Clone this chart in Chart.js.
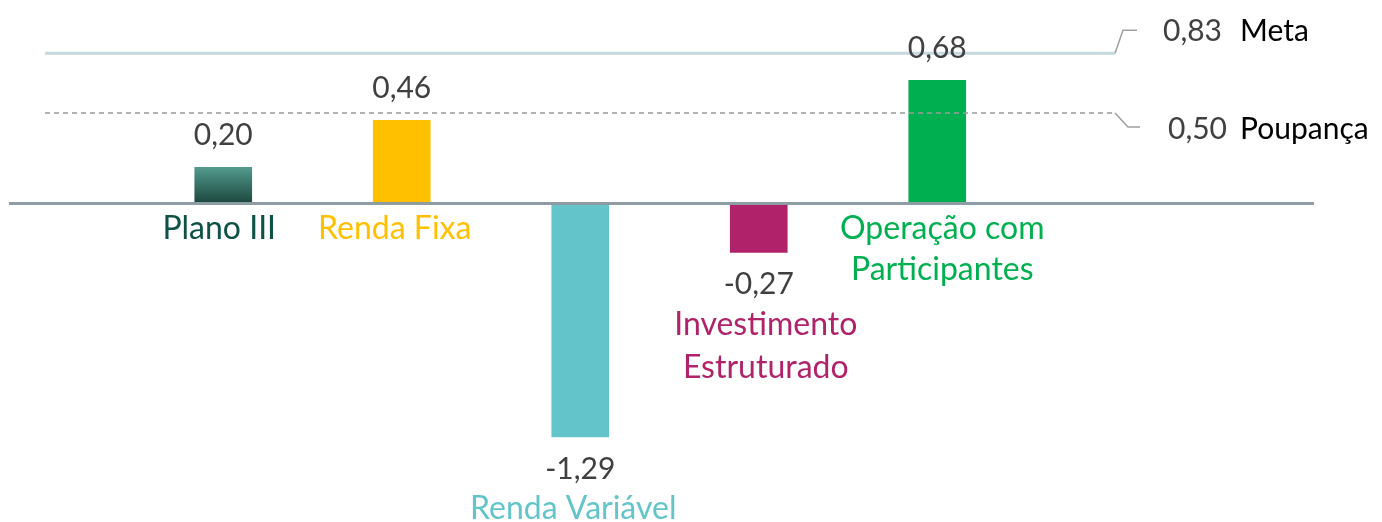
<!DOCTYPE html>
<html>
<head>
<meta charset="utf-8">
<script src="https://cdn.jsdelivr.net/npm/chart.js@4/dist/chart.umd.min.js"></script>
<style>
html,body{margin:0;padding:0;background:#fff;}
#wrap{width:1382px;height:522px;position:relative;}
</style>
</head>
<body>
<div id="wrap"><canvas id="c" width="1382" height="522"></canvas></div>
<script>
// ---- data ----
const categories = ['Plano III', 'Renda Fixa', 'Renda Variável', 'Investimento Estruturado', 'Operação com Participantes'];
const categoryLines = [['Plano III'], ['Renda Fixa'], ['Renda Variável'], ['Investimento', 'Estruturado'], ['Operação com', 'Participantes']];
const values = [0.20, 0.46, -1.29, -0.27, 0.68];
const metaValue = 0.83;
const metaName = 'Meta';
const poupancaValue = 0.50;
const poupancaName = 'Poupança';

// ---- styles ----
const barColors = ['#2f6b5f', '#FFC000', '#63C5C9', '#B0226A', '#00B050'];
const labelColors = ['#0E5246', '#FFC000', '#63C5C9', '#B0226A', '#00B050'];
const labelShift = [-4, -7, -7, 7, 5];
const FONT = 'Lato, "Open Sans", sans-serif';
const fmt = v => v.toFixed(2).replace('.', ',');

const linesPlugin = {
  id: 'refLines',
  afterDatasetsDraw(chart) {
    const c = chart.ctx;
    const y = chart.scales.y;
    const meta = chart.getDatasetMeta(0);
    c.save();
    // zero line
    const y0 = y.getPixelForValue(0);
    c.strokeStyle = '#8E9DA3';
    c.lineWidth = 3;
    c.beginPath(); c.moveTo(9, y0); c.lineTo(1314, y0); c.stroke();
    // meta line
    const ym = y.getPixelForValue(metaValue);
    c.strokeStyle = '#C5D9DF';
    c.lineWidth = 3;
    c.beginPath(); c.moveTo(45, ym); c.lineTo(1115, ym); c.stroke();
    c.strokeStyle = '#A0A0A0';
    c.lineWidth = 1.5;
    c.beginPath(); c.moveTo(1115, ym); c.lineTo(1123, ym - 23); c.lineTo(1137, ym - 23); c.stroke();
    // poupanca line
    const yp = y.getPixelForValue(poupancaValue);
    c.strokeStyle = '#9A9A9A';
    c.lineWidth = 1.5;
    c.setLineDash([5, 4]);
    c.beginPath(); c.moveTo(45, yp); c.lineTo(1115, yp); c.stroke();
    c.setLineDash([]);
    c.strokeStyle = '#A0A0A0';
    c.beginPath(); c.moveTo(1115, yp); c.lineTo(1128, yp + 14); c.lineTo(1140, yp + 14); c.stroke();

    // reference labels
    c.font = '30px ' + FONT;
    c.textBaseline = 'middle';
    c.textAlign = 'left';
    c.fillStyle = '#404040';
    c.fillText(fmt(metaValue), 1163, ym - 22);
    c.fillText(fmt(poupancaValue), 1168, yp + 16);
    c.fillStyle = '#000000';
    c.fillText(metaName, 1240, ym - 22);
    c.fillText(poupancaName, 1240, yp + 16);

    // bar value & category labels
    c.textAlign = 'center';
    const catFont = '32px ' + FONT;
    const valFont = '30px ' + FONT;
    meta.data.forEach((bar, i) => {
      const v = values[i];
      const x = bar.x;
      const lx = x + labelShift[i];
      c.fillStyle = '#404040';
      c.font = valFont;
      if (v >= 0) {
        c.fillText(fmt(v), x, bar.y - 32);
        c.fillStyle = labelColors[i];
        c.font = catFont;
        categoryLines[i].forEach((t, k) => c.fillText(t, lx, y0 + 25 + k * 41));
      } else {
        const vy = bar.y + 32;
        c.fillText(fmt(v), x, vy);
        c.fillStyle = labelColors[i];
        c.font = catFont;
        categoryLines[i].forEach((t, k) => c.fillText(t, lx, vy + 40 + k * 43));
      }
    });
    c.restore();
  }
};

new Chart(document.getElementById('c'), {
  type: 'bar',
  data: {
    labels: categories,
    datasets: [{
      data: values,
      barThickness: 57,
      borderWidth: 0,
      backgroundColor: (ctx) => {
        const i = ctx.dataIndex;
        if (i !== 0) return barColors[i];
        const ch = ctx.chart;
        if (!ch.chartArea || !ch.scales.y) return barColors[0];
        const ys = ch.scales.y;
        const g = ch.ctx.createLinearGradient(0, ys.getPixelForValue(values[0]), 0, ys.getPixelForValue(0));
        g.addColorStop(0, '#539A8D');
        g.addColorStop(1, '#1B463D');
        return g;
      }
    }]
  },
  options: {
    responsive: false,
    animation: false,
    maintainAspectRatio: false,
    layout: { padding: { left: 134, right: 355.5, top: 22.5, bottom: 28.9 } },
    plugins: { legend: { display: false }, tooltip: { enabled: false } },
    scales: {
      x: { display: false },
      y: { display: false, min: -1.6, max: 1.0 }
    }
  },
  plugins: [linesPlugin]
});
</script>
</body>
</html>
